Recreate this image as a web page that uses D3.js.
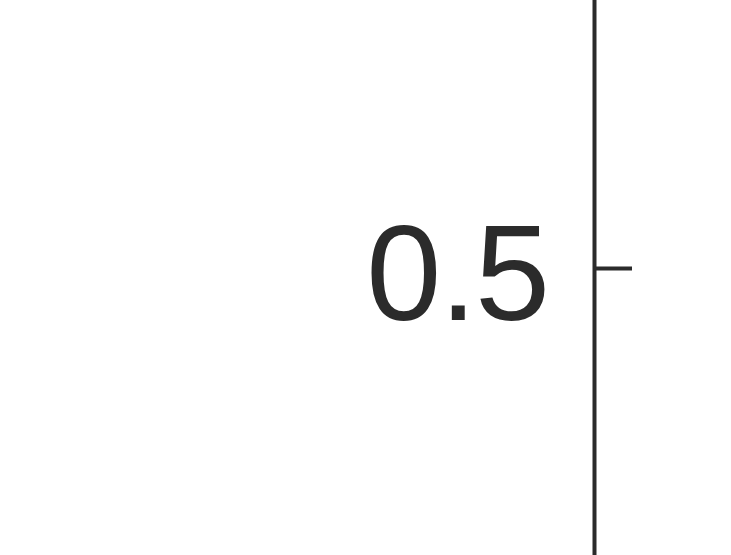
<!DOCTYPE html>
<html><head><meta charset="utf-8">
<script src="https://cdn.jsdelivr.net/npm/d3@7"></script>
<style>html,body{margin:0;padding:0;background:#fff;overflow:hidden}</style>
</head><body>
<svg id="c" width="731" height="555"></svg>
<script>
const tickValues = [0.5];
const tickLabels = ["0.5"];
const domain = [0, 1];

const svg = d3.select("#c");
const y = d3.scaleLinear().domain(domain).range([1068, -532]);
const axis = d3.axisLeft(y)
  .tickValues(tickValues)
  .tickFormat((d, i) => tickLabels[i])
  .tickSizeInner(-38)
  .tickSizeOuter(0)
  .tickPadding(46);
const g = svg.append("g").attr("transform", "translate(594,0)").call(axis);
g.select(".domain").attr("stroke", "#2b2b2b").attr("stroke-width", 4);
g.selectAll(".tick line").attr("stroke", "#2b2b2b").attr("stroke-width", 4);
g.selectAll(".tick text")
  .attr("fill", "#2b2b2b")
  .attr("dy", "0.38em")
  .style("font-family", "'Liberation Sans', Arial, sans-serif")
  .style("font-size", "135px")
  .style("letter-spacing", "-2px");
</script>
</body></html>
